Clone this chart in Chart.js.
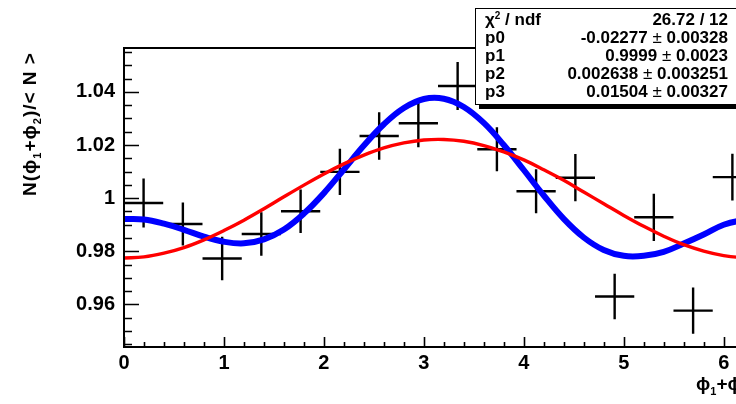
<!DOCTYPE html>
<html>
<head>
<meta charset="utf-8">
<script src="https://cdn.jsdelivr.net/npm/chart.js@4/dist/chart.umd.min.js"></script>
<style>
  html, body { margin: 0; padding: 0; background: #fff; overflow: hidden; width: 736px; height: 404px; }
  #wrap { position: relative; width: 800px; height: 404px; }
  #plot { position: absolute; left: 0; top: 0; }
  .lbl { position: absolute; font-family: 'Liberation Sans', Arial, Helvetica, sans-serif; font-weight: bold; color: #000; white-space: nowrap; }
  .lbl sub { font-size: 11px; vertical-align: -5px; line-height: 0; }
  #ytitle { left: 30px; top: 124px; font-size: 19px; letter-spacing: 1px; transform: translate(-50%, -50%) rotate(-90deg); }
  #xtitle { left: 696px; top: 373px; font-size: 19px; }
  #stats { position: absolute; left: 475px; top: 8px; width: 262px; height: 93px; background: #fff;
           border: 1.5px solid #000; box-shadow: 4px 4px 0 #000; padding: 2px 0 0 0;
           font-family: 'Liberation Sans', Arial, Helvetica, sans-serif; font-weight: bold; font-size: 17px; color: #000; }
  #stats .row { display: flex; justify-content: space-between; height: 18px; line-height: 18px; padding: 0 10px 0 9px; }
  #stats .pm { font-weight: normal; }
  #stats sup { font-size: 10px; vertical-align: 6px; line-height: 0; }
</style>
</head>
<body>
<div id="wrap">
  <canvas id="plot" width="800" height="404"></canvas>
  <div id="ytitle" class="lbl">N(ϕ<sub>1</sub>+ϕ<sub>2</sub>)/&lt; N &gt;</div>
  <div id="xtitle" class="lbl">ϕ<sub>1</sub>+ϕ<sub>2</sub></div>
  <div id="stats">
    <div class="row"><span>χ<sup>2</sup> / ndf</span><span>26.72 / 12</span></div>
    <div class="row"><span>p0</span><span>-0.02277 <span class="pm">±</span> 0.00328</span></div>
    <div class="row"><span>p1</span><span>0.9999 <span class="pm">±</span> 0.0023</span></div>
    <div class="row"><span>p2</span><span>0.002638 <span class="pm">±</span> 0.003251</span></div>
    <div class="row"><span>p3</span><span>0.01504 <span class="pm">±</span> 0.00327</span></div>
  </div>
</div>
<script>
// Measured ratio N(phi1+phi2)/<N> in 16 bins over [0, 2pi]
const binCenters = [0.196, 0.589, 0.982, 1.374, 1.767, 2.160, 2.553, 2.945,
                    3.338, 3.731, 4.123, 4.516, 4.909, 5.301, 5.694, 6.087];
const ratio      = [0.9982, 0.9903, 0.9773, 0.9865, 0.9951, 1.0099, 1.0234, 1.0282,
                    1.0422, 1.0184, 1.0026, 1.0077, 0.9630, 0.9928, 0.9577, 1.0079];
const ratioErr   = [0.0092, 0.0081, 0.0082, 0.0082, 0.0082, 0.0087, 0.0089, 0.0090,
                    0.0090, 0.0083, 0.0083, 0.0089, 0.0086, 0.0089, 0.0087, 0.0088];
const binHalfWidth = 0.19635;

// Sampled fit curves
const curveX  = [0, 0.2, 0.4, 0.6, 0.8, 1.0, 1.2, 1.4, 1.6, 1.8, 2.0, 2.2, 2.4, 2.6, 2.8, 3.0,
                 3.2, 3.4, 3.6, 3.8, 4.0, 4.2, 4.4, 4.6, 4.8, 5.0, 5.2, 5.4, 5.6, 5.8, 6.0, 6.2, 6.2832];
const fitFull = [0.9922, 0.9920, 0.9904, 0.9881, 0.9855, 0.9836, 0.9830, 0.9845, 0.9882, 0.9942,
                 1.0019, 1.0108, 1.0198, 1.0278, 1.0339, 1.0373, 1.0374, 1.0343, 1.0283, 1.0200,
                 1.0106, 1.0010, 0.9922, 0.9852, 0.9805, 0.9783, 0.9783, 0.9798, 0.9829, 0.9863,
                 0.9900, 0.9918, 0.9922];
const fitCos  = [0.9775, 0.9779, 0.9793, 0.9814, 0.9843, 0.9878, 0.9917, 0.9960, 1.0005, 1.0049,
                 1.0091, 1.0129, 1.0162, 1.0189, 1.0208, 1.0219, 1.0221, 1.0214, 1.0198, 1.0174,
                 1.0144, 1.0107, 1.0067, 1.0023, 0.9979, 0.9935, 0.9894, 0.9857, 0.9825, 0.9801,
                 0.9784, 0.9776, 0.9775];

// Axis labels
const xTicks = [0, 1, 2, 3, 4, 5, 6];
const yTicks = [0.96, 0.98, 1.00, 1.02, 1.04];
const xRange = [0, 6.2832];
const yRange = [0.944, 1.0565];

// Error crosses as line segments separated by gaps
const crossData = [];
binCenters.forEach((x, i) => {
  const y = ratio[i], e = ratioErr[i];
  crossData.push({x: x - binHalfWidth, y: y}, {x: x + binHalfWidth, y: y}, {x: x, y: null},
                 {x: x, y: y - e}, {x: x, y: y + e}, {x: x, y: null});
});
const toXY = (xs, ys) => xs.map((x, i) => ({x: x, y: ys[i]}));

const FONT = "'Liberation Sans', Arial, Helvetica, sans-serif";

// Frame and inward tick marks in the style of a physics plot
const framePlugin = {
  id: 'frame',
  afterDatasetsDraw(chart) {
    const {ctx, chartArea: a, scales: {x, y}} = chart;
    ctx.save();
    ctx.strokeStyle = '#000';
    ctx.lineWidth = 2;
    ctx.strokeRect(a.left, a.top, a.right - a.left, a.bottom - a.top);
    ctx.lineWidth = 1.6;
    ctx.beginPath();
    for (let k = Math.ceil(yRange[0] / 0.005); k * 0.005 <= yRange[1] + 1e-9; k++) {
      const py = Math.round(y.getPixelForValue(k * 0.005)) + 0.5;
      const len = (k % 4 === 0) ? 15 : 8;
      ctx.moveTo(a.left, py); ctx.lineTo(a.left + len, py);
    }
    for (let k = 0; k * 0.2 <= xRange[1]; k++) {
      const px = Math.round(x.getPixelForValue(k * 0.2)) + 0.5;
      const len = (k % 5 === 0) ? 10 : 5;
      ctx.moveTo(px, a.bottom); ctx.lineTo(px, a.bottom - len);
    }
    ctx.stroke();
    ctx.restore();
  }
};

new Chart(document.getElementById('plot'), {
  type: 'line',
  data: {
    datasets: [
      { label: 'data', data: crossData, borderColor: '#000', borderWidth: 2.4, pointRadius: 0,
        spanGaps: false, tension: 0, order: 3 },
      { label: 'fit', data: toXY(curveX, fitFull), borderColor: '#0000ff', borderWidth: 6,
        pointRadius: 0, tension: 0.4, order: 2 },
      { label: 'cos fit', data: toXY(curveX, fitCos), borderColor: '#ff0000', borderWidth: 3.4,
        pointRadius: 0, tension: 0.4, order: 1 }
    ]
  },
  options: {
    responsive: false,
    animation: false,
    devicePixelRatio: 1,
    layout: { padding: { top: 48, right: 48, left: 0, bottom: 0 } },
    plugins: { legend: { display: false }, tooltip: { enabled: false } },
    scales: {
      x: {
        type: 'linear', min: xRange[0], max: xRange[1],
        afterBuildTicks: s => { s.ticks = xTicks.map(v => ({ value: v })); },
        afterFit: s => { s.height = 57; },
        grid: { display: false, drawTicks: false },
        border: { display: false },
        ticks: { color: '#000', padding: 4, maxRotation: 0, autoSkip: false,
                 font: { family: FONT, weight: 'bold', size: 20 },
                 callback: v => String(v) }
      },
      y: {
        type: 'linear', min: yRange[0], max: yRange[1],
        afterBuildTicks: s => { s.ticks = yTicks.map(v => ({ value: v })); },
        afterFit: s => { s.width = 124; },
        grid: { display: false, drawTicks: false },
        border: { display: false },
        ticks: { color: '#000', padding: 9, autoSkip: false,
                 font: { family: FONT, weight: 'bold', size: 20 },
                 callback: v => String(+v.toFixed(2)) }
      }
    }
  },
  plugins: [framePlugin]
});
</script>
</body>
</html>
